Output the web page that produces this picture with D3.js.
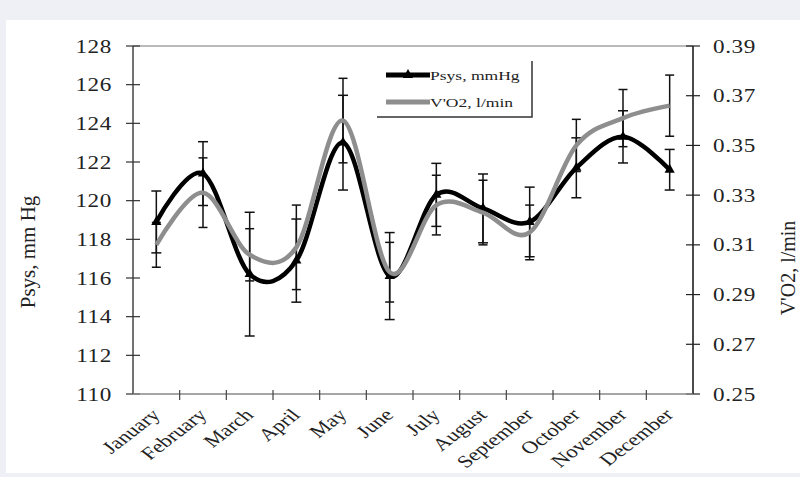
<!DOCTYPE html>
<html>
<head>
<meta charset="utf-8">
<script src="https://cdn.jsdelivr.net/npm/d3@7"></script>
<style>
  html, body { margin: 0; padding: 0; background: #eef0f5; }
  svg { display: block; }
  text { font-family: "Liberation Serif", "Times New Roman", serif; fill: #222; }
</style>
</head>
<body>
<div id="chart"></div>
<script>
const months = ['January', 'February', 'March', 'April', 'May', 'June', 'July',
    'August', 'September', 'October', 'November', 'December'];
const psys = [118.9, 121.4, 116.2, 116.9, 123.0, 116.1, 120.3, 119.6, 118.9, 121.7, 123.3, 121.6];
const psysErr = [1.6, 1.65, 3.2, 2.15, 2.45, 2.25, 1.63, 1.78, 1.8, 1.55, 1.35, 1.05];
const vo2 = [0.310, 0.331, 0.306, 0.309, 0.360, 0.299, 0.326, 0.323, 0.315, 0.350, 0.361, 0.366];
const vo2Err = [0.009, 0.014, 0.0105, 0.017, 0.017, 0.012, 0.012, 0.013, 0.011, 0.0105, 0.0115, 0.0123];
const leftTicks = [110, 112, 114, 116, 118, 120, 122, 124, 126, 128];
const rightTicks = [0.25, 0.27, 0.29, 0.31, 0.33, 0.35, 0.37, 0.39];

const width = 800, height = 477;
const plot = { left: 133, right: 693, top: 46, bottom: 394 };
const stretch = 1.3;

const svg = d3.select('#chart').append('svg')
    .attr('width', width)
    .attr('height', height);

// white panel
svg.append('rect')
    .attr('x', 6).attr('y', 20)
    .attr('width', width - 6).attr('height', height - 24)
    .attr('fill', '#fff');

const x = d3.scaleBand().domain(months).range([plot.left, plot.right]);
const yL = d3.scaleLinear().domain([110, 128]).range([plot.bottom, plot.top]);
const yR = d3.scaleLinear().domain([0.25, 0.39]).range([plot.bottom, plot.top]);
const cx = m => x(m) + x.bandwidth() / 2;

// frame
svg.append('line')
    .attr('x1', plot.left).attr('x2', plot.right)
    .attr('y1', plot.top).attr('y2', plot.top)
    .attr('stroke', '#777').attr('stroke-width', 1);

// left axis
const gl = svg.append('g');
gl.append('line')
    .attr('x1', plot.left).attr('x2', plot.left)
    .attr('y1', plot.top).attr('y2', plot.bottom)
    .attr('stroke', '#444').attr('stroke-width', 1.5);
gl.selectAll('line.tick').data(leftTicks).enter().append('line')
    .attr('class', 'tick')
    .attr('x1', plot.left - 7).attr('x2', plot.left + 7)
    .attr('y1', d => yL(d)).attr('y2', d => yL(d))
    .attr('stroke', '#333').attr('stroke-width', 1.2);
gl.selectAll('text').data(leftTicks).enter().append('text')
    .attr('transform', d => `translate(112,${yL(d) + 6.5}) scale(1.22,1)`)
    .attr('text-anchor', 'end')
    .style('font-size', '19px')
    .style('letter-spacing', '0.5px')
    .text(d => d);

// right axis
const gr = svg.append('g');
gr.append('line')
    .attr('x1', plot.right).attr('x2', plot.right)
    .attr('y1', plot.top).attr('y2', plot.bottom)
    .attr('stroke', '#111').attr('stroke-width', 1.5);
gr.selectAll('line.tick').data(rightTicks).enter().append('line')
    .attr('class', 'tick')
    .attr('x1', plot.right - 7).attr('x2', plot.right + 7)
    .attr('y1', d => yR(d)).attr('y2', d => yR(d))
    .attr('stroke', '#222').attr('stroke-width', 1.2);
gr.selectAll('text').data(rightTicks).enter().append('text')
    .attr('transform', d => `translate(713,${yR(d) + 6.5}) scale(1.22,1)`)
    .style('font-size', '19px')
    .style('letter-spacing', '0.5px')
    .text(d => d.toFixed(2));

// bottom axis
const gb = svg.append('g');
gb.append('line')
    .attr('x1', plot.left).attr('x2', plot.right)
    .attr('y1', plot.bottom).attr('y2', plot.bottom)
    .attr('stroke', '#888').attr('stroke-width', 1.5);
gb.selectAll('line.tick').data(months.slice(1)).enter().append('line')
    .attr('class', 'tick')
    .attr('x1', d => x(d)).attr('x2', d => x(d))
    .attr('y1', plot.bottom - 4).attr('y2', plot.bottom + 6)
    .attr('stroke', '#444').attr('stroke-width', 1.2);
gb.selectAll('text').data(months).enter().append('text')
    .attr('transform', d => `translate(${cx(d) + 5},${plot.bottom + 22}) scale(${stretch},1) rotate(-45)`)
    .attr('text-anchor', 'end')
    .style('font-size', '17.5px')
    .text(d => d);

// axis titles
svg.append('text')
    .attr('transform', `translate(35,${(plot.top + plot.bottom) / 2 + 32}) rotate(-90)`)
    .attr('text-anchor', 'middle')
    .style('font-size', '21px')
    .text('Psys, mm Hg');
svg.append('text')
    .attr('transform', `translate(795,${(plot.top + plot.bottom) / 2 + 48}) rotate(-90)`)
    .attr('text-anchor', 'middle')
    .style('font-size', '20px')
    .text("V'O2, l/min");

// error bars
function errorBars(vals, errs, y, cap) {
    const g = svg.append('g').attr('stroke', '#111').attr('stroke-width', 1.5);
    const rows = months.map((m, i) => ({ m, lo: y(vals[i] - errs[i]), hi: y(vals[i] + errs[i]) }));
    g.selectAll('line.v').data(rows).enter().append('line')
        .attr('x1', d => cx(d.m)).attr('x2', d => cx(d.m))
        .attr('y1', d => d.lo).attr('y2', d => d.hi);
    ['lo', 'hi'].forEach(k => {
        g.selectAll('line.' + k).data(rows).enter().append('line')
            .attr('x1', d => cx(d.m) - cap).attr('x2', d => cx(d.m) + cap)
            .attr('y1', d => d[k]).attr('y2', d => d[k]);
    });
}
errorBars(psys, psysErr, yL, 5);
errorBars(vo2, vo2Err, yR, 4.5);

const curve = d3.curveCardinal.tension(0);

// Psys line
svg.append('path')
    .datum(psys)
    .attr('fill', 'none')
    .attr('stroke', '#000')
    .attr('stroke-width', 4.5)
    .attr('d', d3.line().x((d, i) => cx(months[i])).y(d => yL(d)).curve(curve));
svg.selectAll('path.tri').data(psys).enter().append('path')
    .attr('class', 'tri')
    .attr('transform', (d, i) => `translate(${cx(months[i])},${yL(d)})`)
    .attr('d', d3.symbol(d3.symbolTriangle, 45))
    .attr('fill', '#000');

// VO2 line (secondary axis, drawn on top)
svg.append('path')
    .datum(vo2)
    .attr('fill', 'none')
    .attr('stroke', '#8e8e8e')
    .attr('stroke-width', 4.5)
    .attr('d', d3.line().x((d, i) => cx(months[i])).y(d => yR(d)).curve(curve));

// legend
const lg = svg.append('g');
lg.append('rect')
    .attr('x', 377).attr('y', 61).attr('width', 155).attr('height', 56)
    .attr('fill', '#fff');
lg.append('path')
    .attr('d', 'M532,61V117H377')
    .attr('fill', 'none').attr('stroke', '#333').attr('stroke-width', 1.5);
const legendItems = [
    { label: 'Psys, mmHg', color: '#000', y: 75 },
    { label: "V'O2, l/min", color: '#8e8e8e', y: 102 }
];
legendItems.forEach(d => {
    lg.append('line')
        .attr('x1', 386).attr('x2', 430)
        .attr('y1', d.y).attr('y2', d.y)
        .attr('stroke', d.color).attr('stroke-width', 5);
    lg.append('text')
        .attr('transform', `translate(430,${d.y + 4.5}) scale(${stretch},1)`)
        .style('font-size', '13.5px')
        .text(d.label);
});
lg.append('path')
    .attr('transform', 'translate(408,75)')
    .attr('d', d3.symbol(d3.symbolTriangle, 45))
    .attr('fill', '#000');
</script>
</body>
</html>
